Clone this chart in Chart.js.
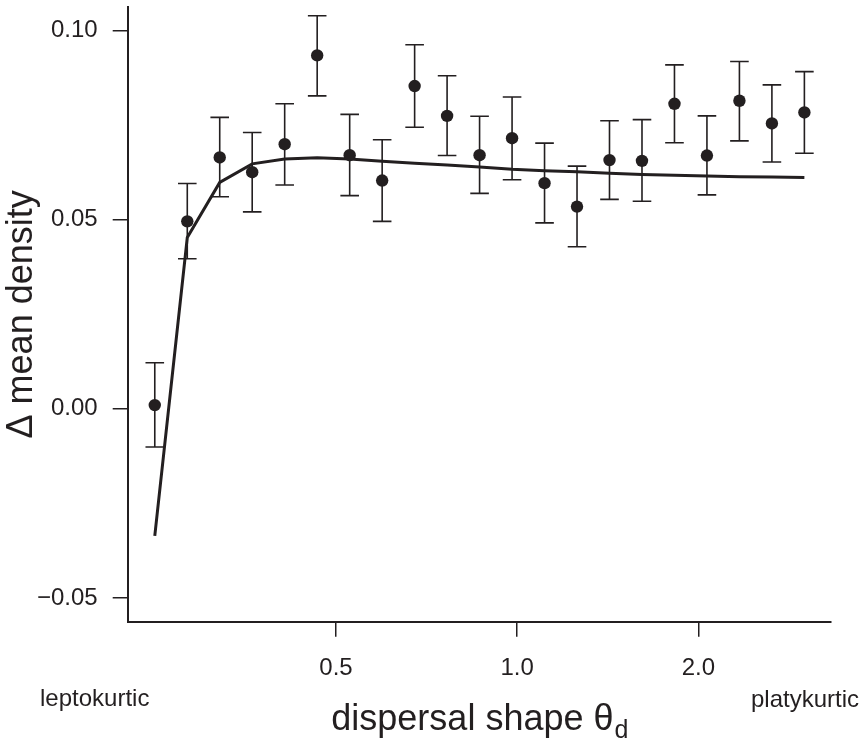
<!DOCTYPE html>
<html>
<head>
<meta charset="utf-8">
<script src="https://cdn.jsdelivr.net/npm/chart.js@4.4.1/dist/chart.umd.min.js"></script>
<style>
  html, body { margin: 0; padding: 0; background: #ffffff; }
  #wrap { width: 865px; height: 743px; position: relative; }
</style>
</head>
<body>
<div id="wrap"><canvas id="chart"></canvas></div>
<script>
// Dispersal shape parameter (log-spaced from 0.25 to 3.0)
const theta = [0.25, 0.2831, 0.3205, 0.3629, 0.4109, 0.4653, 0.5269, 0.5966, 0.6755, 0.7648,
               0.8660, 0.9806, 1.1103, 1.2572, 1.4235, 1.6119, 1.8251, 2.0665, 2.3399, 2.6495, 3.0];
// Simulated change in mean density with error bar limits
const meanDensity = [0.0010, 0.0496, 0.0665, 0.0626, 0.0700, 0.0935, 0.0671, 0.0604, 0.0854, 0.0775,
                     0.0671, 0.0716, 0.0597, 0.0535, 0.0658, 0.0656, 0.0807, 0.0670, 0.0815, 0.0755, 0.0784];
const upperBar = [0.0122, 0.0596, 0.0771, 0.0731, 0.0807, 0.1040, 0.0779, 0.0712, 0.0963, 0.0881,
                  0.0774, 0.0825, 0.0703, 0.0642, 0.0762, 0.0765, 0.0910, 0.0775, 0.0919, 0.0857, 0.0892];
const lowerBar = [-0.0101, 0.0397, 0.0561, 0.0521, 0.0592, 0.0828, 0.0564, 0.0496, 0.0745, 0.0670,
                  0.0570, 0.0606, 0.0492, 0.0429, 0.0554, 0.0549, 0.0704, 0.0566, 0.0709, 0.0653, 0.0676];
// Analytical prediction
const predicted = [-0.0336, 0.0453, 0.0599, 0.0648, 0.0661, 0.0664, 0.0661, 0.0655, 0.0650, 0.0645,
                   0.0640, 0.0634, 0.0630, 0.0627, 0.0623, 0.0620, 0.0618, 0.0616, 0.0614, 0.0613, 0.0612];

const xTicks = [0.5, 1.0, 2.0];
const xTickLabels = ['0.5', '1.0', '2.0'];
const yTicks = [-0.05, 0.00, 0.05, 0.10];
const yTickLabels = ['\u22120.05', '0.00', '0.05', '0.10'];

const INK = '#231f20';
const FONT = '"Liberation Sans", Arial, Helvetica, sans-serif';

const pointData = theta.map((t, i) => ({ x: t, y: meanDensity[i] }));
const lineData = theta.map((t, i) => ({ x: t, y: predicted[i] }));

// Vertical error bars with caps, drawn beneath the markers
const errorBars = {
  id: 'errorBars',
  beforeDatasetsDraw(chart) {
    const { ctx, scales: { x, y } } = chart;
    const cap = 9.3;
    ctx.save();
    ctx.strokeStyle = INK;
    ctx.lineWidth = 1.6;
    theta.forEach((t, i) => {
      const px = x.getPixelForValue(t);
      const top = y.getPixelForValue(upperBar[i]);
      const bot = y.getPixelForValue(lowerBar[i]);
      ctx.beginPath();
      ctx.moveTo(px, top); ctx.lineTo(px, bot);
      ctx.moveTo(px - cap, top); ctx.lineTo(px + cap, top);
      ctx.moveTo(px - cap, bot); ctx.lineTo(px + cap, bot);
      ctx.stroke();
    });
    ctx.restore();
  }
};

// Axis titles and the end annotations of the shape axis
const annotations = {
  id: 'annotations',
  afterDraw(chart) {
    const { ctx, chartArea } = chart;
    ctx.save();
    ctx.fillStyle = INK;
    ctx.textBaseline = 'alphabetic';

    ctx.font = '24px ' + FONT;
    ctx.textAlign = 'left';
    ctx.fillText('leptokurtic', 40, 706);
    ctx.textAlign = 'right';
    ctx.fillText('platykurtic', 859, 706.5);

    // x title with subscript
    const mainFont = '36px ' + FONT;
    const subFont = '25px ' + FONT;
    const main = 'dispersal shape \u03b8';
    const sub = 'd';
    ctx.font = mainFont;
    const wMain = ctx.measureText(main).width;
    ctx.font = subFont;
    const wSub = ctx.measureText(sub).width;
    const cx = (chartArea.left + chartArea.right) / 2;
    const startX = cx - (wMain + wSub) / 2;
    ctx.textAlign = 'left';
    ctx.font = mainFont;
    ctx.fillText(main, startX, 730);
    ctx.font = subFont;
    ctx.fillText(sub, startX + wMain + 1, 738);

    // y title, rotated
    ctx.font = mainFont;
    ctx.textAlign = 'center';
    ctx.translate(32, (chartArea.top + chartArea.bottom) / 2);
    ctx.rotate(-Math.PI / 2);
    ctx.fillText('\u0394 mean density', 0, 0);
    ctx.restore();
  }
};

new Chart(document.getElementById('chart'), {
  type: 'scatter',
  data: {
    datasets: [
      {
        label: 'simulation',
        data: pointData,
        showLine: false,
        pointRadius: 6.2,
        pointHoverRadius: 6.2,
        pointBackgroundColor: INK,
        pointBorderWidth: 0,
        order: 0
      },
      {
        label: 'prediction',
        data: lineData,
        showLine: true,
        borderColor: INK,
        borderWidth: 3,
        pointRadius: 0,
        tension: 0,
        fill: false,
        order: 1
      }
    ]
  },
  options: {
    responsive: true,
    maintainAspectRatio: false,
    animation: false,
    devicePixelRatio: 1,
    layout: { padding: { top: 7, right: 34, left: 0, bottom: 0 } },
    plugins: {
      legend: { display: false },
      tooltip: { enabled: false },
      title: { display: false }
    },
    scales: {
      x: {
        type: 'logarithmic',
        position: 'bottom',
        min: 0.2254,
        max: 3.3215,
        border: { display: true, color: INK, width: 2 },
        grid: { display: true, drawOnChartArea: false, drawTicks: true, tickLength: 15, color: INK, lineWidth: 1.5 },
        ticks: {
          font: { family: FONT, size: 24 },
          color: INK,
          padding: 17,
          autoSkip: false,
          maxRotation: 0,
          minRotation: 0,
          callback: (v, i) => xTickLabels[i]
        },
        afterBuildTicks: s => { s.ticks = xTicks.map(v => ({ value: v })); },
        afterFit: s => {
          s.height = 121.3;
          s.paddingLeft = 0; s.paddingRight = 0;
        }
      },
      y: {
        type: 'linear',
        position: 'left',
        min: -0.0563,
        max: 0.1063,
        border: { display: true, color: INK, width: 2 },
        grid: { display: true, drawOnChartArea: false, drawTicks: true, tickLength: 15, color: INK, lineWidth: 1.5 },
        ticks: {
          font: { family: FONT, size: 24 },
          color: INK,
          padding: 15,
          autoSkip: false,
          callback: (v, i) => yTickLabels[i]
        },
        afterBuildTicks: s => { s.ticks = yTicks.map(v => ({ value: v })); },
        afterFit: s => {
          s.width = 127.7;
          s.paddingTop = 0; s.paddingBottom = 0;
        }
      }
    }
  },
  plugins: [errorBars, annotations]
});
</script>
</body>
</html>
